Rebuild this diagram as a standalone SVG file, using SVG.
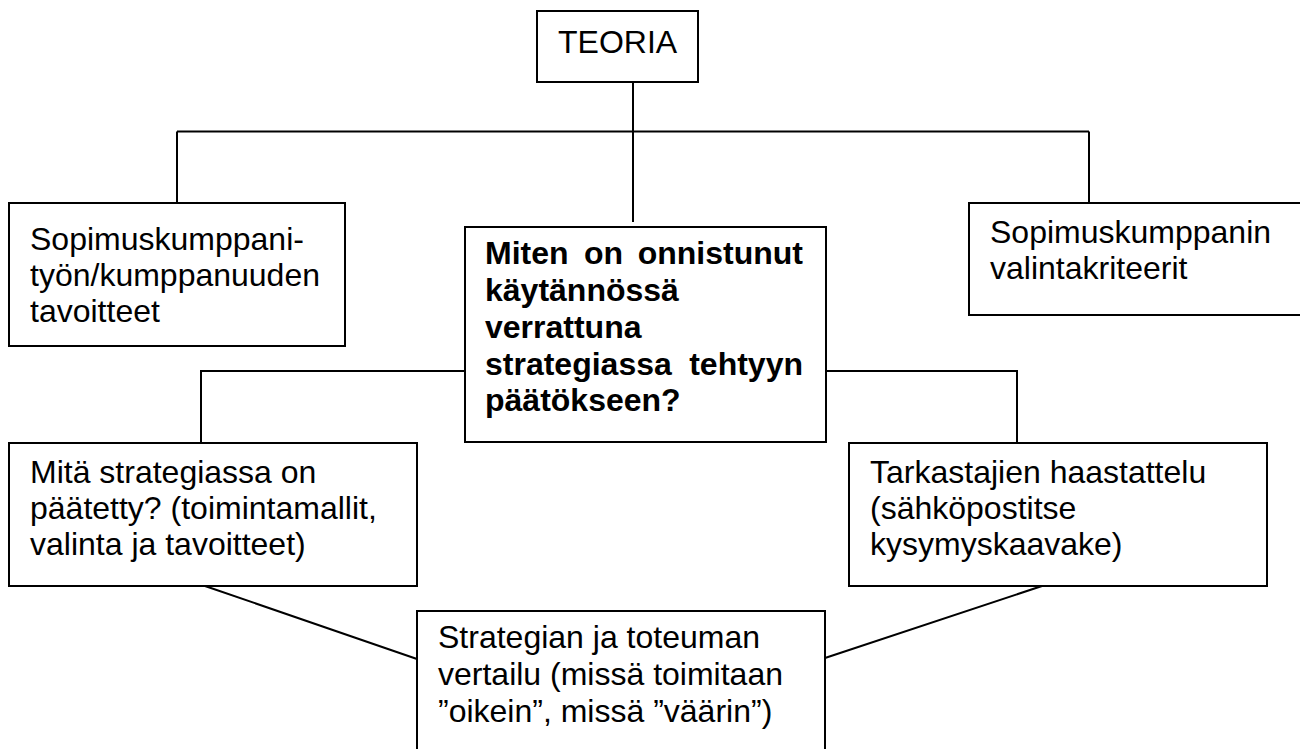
<svg xmlns="http://www.w3.org/2000/svg" width="1300" height="749" viewBox="0 0 1300 749">
<style>
.box{fill:#fff;stroke:#000;stroke-width:2}
.ln{fill:none;stroke:#000;stroke-width:2}
.t{font-family:"Liberation Sans",Arial,sans-serif;font-size:32px;fill:#000}
.b{font-weight:bold}
</style>
<rect width="1300" height="749" fill="#fff"/>
<g id="connectors">
<path class="ln" d="M633 82V222M177 131.5H1089M177 131.5V203M1089 131.5V203"/>
<path class="ln" d="M465 371H201V443M825 371H1017V443"/>
<path class="ln" d="M205 586L417 659M1042 586L825 658"/>
</g>
<g id="teoria">
<rect class="box" x="537" y="11" width="161" height="71"/>
<text class="t" x="558" y="53">TEORIA</text>
</g>
<g id="tavoitteet">
<rect class="box" x="9" y="203" width="336" height="143"/>
<text class="t" x="30" y="250">Sopimuskumppani-</text>
<text class="t" x="30" y="286">työn/kumppanuuden</text>
<text class="t" x="30" y="322">tavoitteet</text>
</g>
<g id="kriteerit">
<rect class="box" x="969" y="203" width="340" height="112"/>
<text class="t" x="990" y="243">Sopimuskumppanin</text>
<text class="t" x="990" y="279">valintakriteerit</text>
</g>
<g id="keskus">
<rect class="box" x="465" y="227" width="361" height="215"/>
<text class="t b" x="485" y="264">Miten</text>
<text class="t b" x="584" y="264">on</text>
<text class="t b" x="803" y="264" text-anchor="end">onnistunut</text>
<text class="t b" x="485" y="301">käytännössä</text>
<text class="t b" x="485" y="338">verrattuna</text>
<text class="t b" x="485" y="375">strategiassa</text>
<text class="t b" x="803" y="375" text-anchor="end">tehtyyn</text>
<text class="t b" x="485" y="411">päätökseen?</text>
</g>
<g id="strategia">
<rect class="box" x="9" y="443" width="408" height="143"/>
<text class="t" x="30" y="483">Mitä strategiassa on</text>
<text class="t" x="30" y="519">päätetty? (toimintamallit,</text>
<text class="t" x="30" y="555">valinta ja tavoitteet)</text>
</g>
<g id="haastattelu">
<rect class="box" x="849" y="443" width="418" height="143"/>
<text class="t" x="870" y="483">Tarkastajien haastattelu</text>
<text class="t" x="870" y="519">(sähköpostitse</text>
<text class="t" x="870" y="555">kysymyskaavake)</text>
</g>
<g id="vertailu">
<rect class="box" x="417" y="611" width="408" height="160"/>
<text class="t" x="438" y="648">Strategian ja toteuman</text>
<text class="t" x="438" y="685">vertailu (missä toimitaan</text>
<text class="t" x="438" y="722">”oikein”, missä ”väärin”)</text>
</g>
</svg>
